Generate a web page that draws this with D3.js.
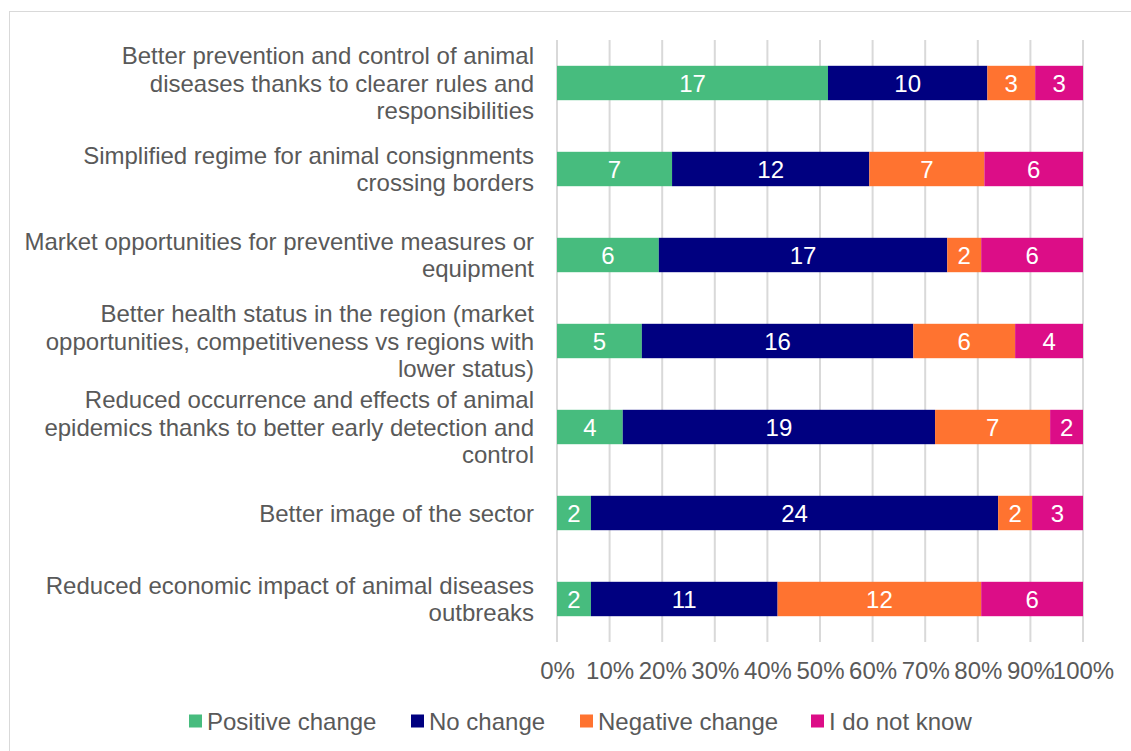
<!DOCTYPE html>
<html>
<head>
<meta charset="utf-8">
<script src="https://cdn.jsdelivr.net/npm/d3@7"></script>
<style>
  html, body { margin: 0; padding: 0; background: #fff; }
  svg { display: block; font-family: "Liberation Sans", Arial, sans-serif; }
</style>
</head>
<body>
<svg id="chart" width="1131" height="751"></svg>
<script>
// Survey answers: expected change per aspect (number of respondents)
const categories = [
  ["Better prevention and control of animal", "diseases thanks to clearer rules and", "responsibilities"],
  ["Simplified regime for animal consignments", "crossing borders"],
  ["Market opportunities for preventive measures or", "equipment"],
  ["Better health status in the region (market", "opportunities, competitiveness vs regions with", "lower status)"],
  ["Reduced occurrence and effects of animal", "epidemics thanks to better early detection and", "control"],
  ["Better image of the sector"],
  ["Reduced economic impact of animal diseases", "outbreaks"]
];
const seriesNames = ["Positive change", "No change", "Negative change", "I do not know"];
const positive = [17, 7, 6, 5, 4, 2, 2];
const noChange = [10, 12, 17, 16, 19, 24, 11];
const negative = [3, 7, 2, 6, 7, 2, 12];
const dontKnow = [3, 6, 6, 4, 2, 3, 6];
const tickValues = [0, 0.1, 0.2, 0.3, 0.4, 0.5, 0.6, 0.7, 0.8, 0.9, 1];
const colors = ["#47BC7E", "#000080", "#FF7330", "#DC0D87"];

const FS = 24;

const rows = categories.map((c, i) => ({
  idx: i, lines: c,
  values: [positive[i], noChange[i], negative[i], dontKnow[i]]
}));

const svg = d3.select("#chart");
const W = 1131, H = 751;
const m = { left: 557, right: 48, top: 40, bottom: 109 };

// outer frame
svg.append("rect")
  .attr("x", 9.5).attr("y", 11.5)
  .attr("width", W + 20).attr("height", H + 20)
  .attr("fill", "none").attr("stroke", "#d9d9d9").attr("stroke-width", 1);

const x = d3.scaleLinear().domain([0, 1]).range([m.left, W - m.right]);
const y = d3.scaleBand().domain(rows.map(r => r.idx))
  .range([m.top, H - m.bottom]).paddingInner(0.6).paddingOuter(0.3);

// vertical gridlines
svg.append("g").selectAll("line").data(tickValues).join("line")
  .attr("x1", d => x(d)).attr("x2", d => x(d))
  .attr("y1", m.top).attr("y2", H - m.bottom)
  .attr("stroke", "#d9d9d9").attr("stroke-width", 2);

// stacked segments, normalised to 100 %
const segs = [];
rows.forEach(r => {
  const total = d3.sum(r.values);
  let acc = 0;
  r.values.forEach((v, k) => {
    segs.push({ row: r.idx, k, v, x0: acc / total, x1: (acc + v) / total });
    acc += v;
  });
});

const bars = svg.append("g");
bars.selectAll("rect").data(segs).join("rect")
  .attr("x", d => x(d.x0)).attr("width", d => x(d.x1) - x(d.x0))
  .attr("y", d => y(d.row)).attr("height", y.bandwidth())
  .attr("fill", d => colors[d.k]);

bars.selectAll("text").data(segs).join("text")
  .attr("x", d => (x(d.x0) + x(d.x1)) / 2)
  .attr("y", d => y(d.row) + y.bandwidth() / 2)
  .attr("dy", "0.36em")
  .attr("text-anchor", "middle")
  .attr("fill", "#fff").attr("font-size", FS)
  .text(d => d.v);

// category labels
const lh = 27.5;
const cat = svg.append("g");
rows.forEach(r => {
  const cy = y(r.idx) + y.bandwidth() / 2;
  const n = r.lines.length;
  const t = cat.append("text")
    .attr("text-anchor", "end").attr("fill", "#595959").attr("font-size", FS);
  r.lines.forEach((ln, j) => {
    t.append("tspan").attr("x", 534)
      .attr("y", cy + (j - (n - 1) / 2) * lh)
      .attr("dy", "0.36em").text(ln);
  });
});

// x axis
const xAxis = d3.axisBottom(x).tickValues(tickValues).tickFormat(d3.format(".0%")).tickSize(0).tickPadding(0);
const ax = svg.append("g").attr("transform", `translate(0,${H - m.bottom})`).call(xAxis);
ax.select(".domain").remove();
ax.selectAll("text").attr("font-size", FS).attr("fill", "#595959")
  .attr("font-family", "Liberation Sans, Arial, sans-serif")
  .attr("y", 37).attr("dy", 0);

// legend
const legendX = [189, 411, 580, 811];
const lg = svg.append("g");
seriesNames.forEach((s, k) => {
  const g = lg.append("g").attr("transform", `translate(${legendX[k]},721)`);
  g.append("rect").attr("x", 0).attr("y", -6.5).attr("width", 13).attr("height", 13).attr("fill", colors[k]);
  g.append("text").attr("x", 18).attr("dy", "0.36em").attr("font-size", FS).attr("fill", "#595959").text(s);
});
</script>
</body>
</html>
